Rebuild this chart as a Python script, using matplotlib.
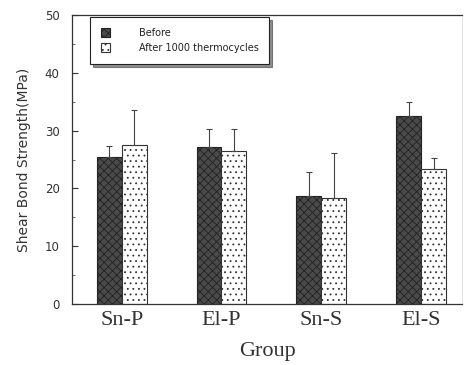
import matplotlib
matplotlib.use("Agg")
import matplotlib.pyplot as plt
import numpy as np
from matplotlib.ticker import MultipleLocator

groups = ["Sn-P", "El-P", "Sn-S", "El-S"]
before = [25.4, 27.1, 18.6, 32.5]
before_sd = [1.9, 3.1, 4.2, 2.4]
after = [27.5, 26.5, 18.4, 23.4]
after_sd = [6.0, 3.8, 7.7, 1.9]
yticks = [0, 10, 20, 30, 40, 50]

plt.rcParams['hatch.linewidth'] = 0.6
fig = plt.figure(figsize=(4.67, 3.65), dpi=100)
ax = fig.add_axes([72/467, 1-304/365, (462-72)/467, (304-15)/365])

x = np.arange(len(groups))
w = 0.25
ax.bar(x - w/2, before, w, color="#4a4a4a", edgecolor="#222222", hatch="xxxx",
       linewidth=0.8, label="Before", zorder=2)
ax.bar(x + w/2, after, w, color="white", edgecolor="#333333", hatch="...",
       linewidth=0.8, label="After 1000 thermocycles", zorder=2)
ax.errorbar(x - w/2, before, yerr=[np.zeros(4), before_sd], fmt="none",
            ecolor="#444444", elinewidth=0.8, capsize=2, capthick=0.8, zorder=3)
ax.errorbar(x + w/2, after, yerr=[np.zeros(4), after_sd], fmt="none",
            ecolor="#444444", elinewidth=0.8, capsize=2, capthick=0.8, zorder=3)

ax.set_xlim(-0.498, 3.41)
ax.set_ylim(0, 50)
ax.set_yticks(yticks)
ax.yaxis.set_minor_locator(MultipleLocator(5))
ax.tick_params(axis='y', which='major', direction='in', length=4, labelsize=8.5,
               colors="#333333", pad=9)
ax.tick_params(axis='y', which='minor', direction='in', length=2, color="#555555")
ax.set_xticks(x)
ax.set_xticklabels(groups, fontfamily="Liberation Serif", fontsize=16, color="#333333")
ax.tick_params(axis='x', length=0, pad=5)
ax.set_xlabel("Group", fontfamily="Liberation Serif", fontsize=16, labelpad=9,
              color="#333333")
ax.set_ylabel("Shear Bond Strength(MPa)", fontsize=10, color="#333333", labelpad=10)

for s in ["left", "bottom", "top"]:
    ax.spines[s].set_color("#333333")
    ax.spines[s].set_linewidth(0.9)
ax.spines["right"].set_color("#dddddd")
ax.spines["right"].set_linewidth(0.6)

leg = ax.legend(loc="upper left", bbox_to_anchor=(18/390, 1 - 2/289), fontsize=7,
                frameon=True, fancybox=False, shadow={'color': '#222222', 'ox': 2, 'oy': -2},
                edgecolor="#222222", handlelength=1.0, handleheight=1.0,
                borderpad=1.1, labelspacing=0.55, handletextpad=2.9,
                borderaxespad=0.0)
leg.get_frame().set_linewidth(0.8)
for t in leg.get_texts():
    t.set_color("#222222")

fig.savefig("out.png", dpi=100)
